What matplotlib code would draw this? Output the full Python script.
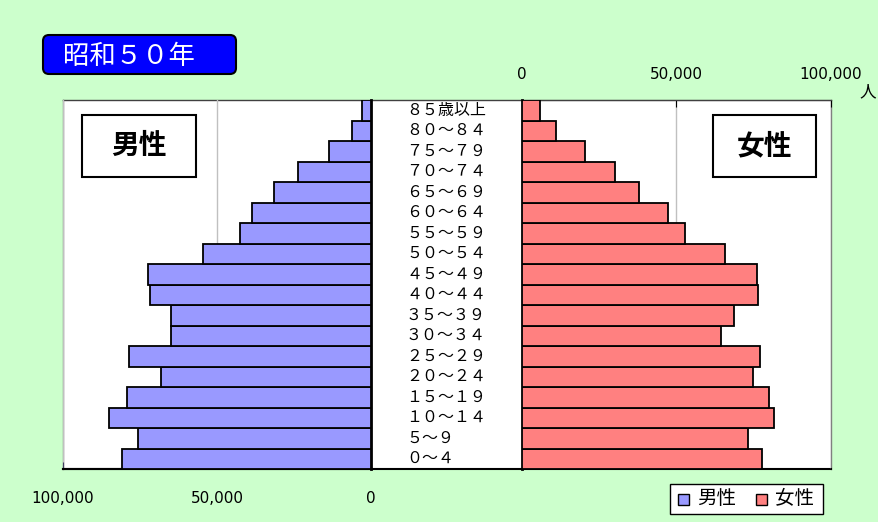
import matplotlib
matplotlib.use("Agg")
from matplotlib import pyplot as plt
from matplotlib.patches import FancyBboxPatch, Rectangle

plt.rcParams['font.family'] = ['Noto Sans CJK JP', 'DejaVu Sans']

# age groups, bottom to top
ages = ["０～４", "５～９", "１０～１４", "１５～１９", "２０～２４", "２５～２９",
        "３０～３４", "３５～３９", "４０～４４", "４５～４９", "５０～５４", "５５～５９",
        "６０～６４", "６５～６９", "７０～７４", "７５～７９", "８０～８４", "８５歳以上"]
male = [80970, 75780, 84970, 79220, 68300, 78700, 64840, 64840, 71880, 72300,
        54550, 42440, 38540, 31620, 23600, 13760, 6300, 2820]
female = [77540, 73000, 81530, 79810, 74720, 77000, 64360, 68470, 76470, 75920,
          65550, 52820, 47180, 38010, 30010, 20290, 10890, 5830]
ticks = [0, 50000, 100000]
tick_labels = ["0", "50,000", "100,000"]

W, H = 879, 522
BG = "#ccffcc"
BLUE = "#9999ff"
RED = "#ff8080"


def rect(x0, y0, x1, y1):
    # pixel box (top-left origin) -> figure fraction
    return [x0 / W, 1 - y1 / H, (x1 - x0) / W, (y1 - y0) / H]


fig = plt.figure(figsize=(W / 100, H / 100), dpi=100)
fig.patch.set_facecolor(BG)

# white plot area behind everything
ax_bg = fig.add_axes(rect(63, 100, 831, 469))
ax_bg.set_facecolor("white")
ax_bg.set_xticks([])
ax_bg.set_yticks([])
for s in ax_bg.spines.values():
    s.set_color("#808080")
    s.set_linewidth(1)
ax_bg.spines["top"].set_color("#404040")
ax_bg.spines["bottom"].set_color("black")
ax_bg.spines["bottom"].set_linewidth(1.5)

y = list(range(len(ages)))

# male side
ax_m = fig.add_axes(rect(63, 100, 371, 469))
ax_m.patch.set_alpha(0)
ax_m.barh(y, male, height=1.0, color=BLUE, edgecolor="black", linewidth=1.3, zorder=3)
ax_m.set_xlim(100000, 0)
ax_m.set_ylim(-0.5, len(ages) - 0.5)
ax_m.set_xticks(ticks)
ax_m.set_xticklabels(tick_labels, fontsize=11, family="DejaVu Sans")
ax_m.set_yticks([])
ax_m.grid(axis="x", color="#c0c0c0", linewidth=1, zorder=0)
ax_m.tick_params(axis="x", direction="in", length=5, pad=16, color="#404060")
for s in ["left", "top"]:
    ax_m.spines[s].set_visible(False)
ax_m.spines["right"].set_linewidth(2)
ax_m.spines["bottom"].set_linewidth(1.5)

# female side
ax_f = fig.add_axes(rect(522, 100, 831, 469))
ax_f.patch.set_alpha(0)
ax_f.barh(y, female, height=1.0, color=RED, edgecolor="black", linewidth=1.3, zorder=3)
ax_f.set_xlim(0, 100000)
ax_f.set_ylim(-0.5, len(ages) - 0.5)
ax_f.xaxis.tick_top()
ax_f.set_xticks(ticks)
ax_f.set_xticklabels(tick_labels, fontsize=11, family="DejaVu Sans")
ax_f.set_yticks([])
ax_f.grid(axis="x", color="#c0c0c0", linewidth=1, zorder=0)
ax_f.tick_params(axis="x", direction="in", length=5, pad=13, color="black")
for s in ["right", "bottom"]:
    ax_f.spines[s].set_visible(False)
ax_f.spines["left"].set_linewidth(2)
ax_f.spines["top"].set_color("#404040")

# age labels in the middle
ax_c = fig.add_axes(rect(371, 100, 522, 469))
ax_c.axis("off")
ax_c.set_xlim(371, 522)
ax_c.set_ylim(-0.5, len(ages) - 0.5)
for i, a in enumerate(ages):
    ax_c.text(406, i, a, ha="left", va="center", fontsize=11.5)

fig.text(868 / W, 1 - 92 / H, "人", ha="center", va="center", fontsize=12)

# title box
fig.add_artist(FancyBboxPatch((0.43, (H - 74) / 100), 1.93, 0.39,
                              boxstyle="round,pad=0,rounding_size=0.06",
                              transform=fig.dpi_scale_trans,
                              facecolor="#0000ff", edgecolor="black", linewidth=1.5))
fig.text(63 / W, 1 - 56 / H, "昭和５０年", ha="left", va="center",
         fontsize=19, color="white")

# 男性 / 女性 boxes
for x0, x1, label in [(82, 196, "男性"), (713, 816, "女性")]:
    fig.add_artist(Rectangle((x0 / W, 1 - 177 / H), (x1 - x0) / W, 62 / H,
                             transform=fig.transFigure, facecolor="white",
                             edgecolor="black", linewidth=1.5))
    fig.text((x0 + x1) / 2 / W, 1 - 146 / H, label, ha="center", va="center",
             fontsize=20, fontweight="bold")

# legend
fig.add_artist(Rectangle((670 / W, 1 - 514 / H), 153 / W, 30 / H,
                         transform=fig.transFigure, facecolor="white",
                         edgecolor="black", linewidth=1))
for sx, c, label in [(678, BLUE, "男性"), (756, RED, "女性")]:
    fig.add_artist(Rectangle((sx / W, 1 - 505 / H), 11 / W, 11 / H,
                             transform=fig.transFigure, facecolor=c,
                             edgecolor="black", linewidth=1))
    fig.text((sx + 19) / W, 1 - 499 / H, label, ha="left", va="center", fontsize=14)

fig.savefig("out.png", dpi=100, facecolor=BG)
